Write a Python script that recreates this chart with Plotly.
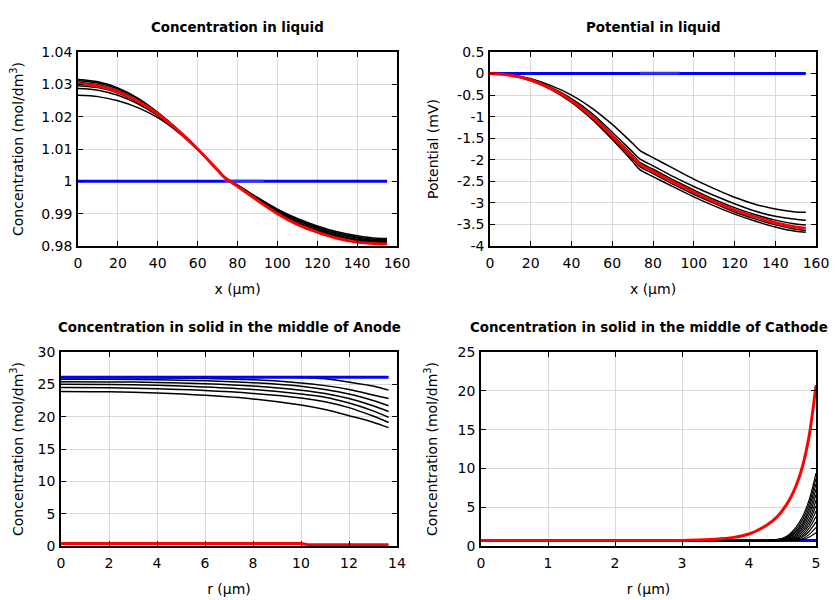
import plotly.graph_objects as go

# ---------------- Data ----------------
# Concentration in liquid (x in µm, mol/dm3)
liq_x = [0, 10, 20, 30, 40, 50, 60, 70, 73.5, 80, 90, 100, 110, 120, 130, 140, 150, 155]
liq_c_black = [
    [1.0266, 1.0262, 1.0249, 1.0228, 1.0197, 1.0153, 1.0098, 1.0035, 1.0012, 0.9989, 0.9950, 0.9914, 0.9885, 0.9862, 0.9844, 0.9832, 0.9824, 0.9823],
    [1.0287, 1.0282, 1.0266, 1.0240, 1.0203, 1.0156, 1.0099, 1.0035, 1.0012, 0.9988, 0.9948, 0.9911, 0.9881, 0.9858, 0.9840, 0.9828, 0.9820, 0.9819],
    [1.0296, 1.0290, 1.0273, 1.0245, 1.0206, 1.0157, 1.0099, 1.0035, 1.0012, 0.9987, 0.9946, 0.9908, 0.9878, 0.9855, 0.9837, 0.9825, 0.9817, 0.9816],
    [1.0306, 1.0299, 1.0281, 1.0251, 1.0210, 1.0159, 1.0100, 1.0035, 1.0012, 0.9986, 0.9944, 0.9905, 0.9874, 0.9851, 0.9833, 0.9821, 0.9814, 0.9813],
    [1.0311, 1.0304, 1.0286, 1.0255, 1.0212, 1.0160, 1.0100, 1.0035, 1.0012, 0.9985, 0.9942, 0.9903, 0.9872, 0.9848, 0.9830, 0.9818, 0.9812, 0.9811],
    [1.0315, 1.0308, 1.0289, 1.0257, 1.0213, 1.0160, 1.0100, 1.0035, 1.0012, 0.9984, 0.9941, 0.9901, 0.9869, 0.9845, 0.9827, 0.9815, 0.9810, 0.9809],
]
liq_c_red = [1.0302, 1.0295, 1.0277, 1.0248, 1.0208, 1.0158, 1.0100, 1.0035, 1.0012, 0.9985, 0.9941, 0.9900, 0.9867, 0.9843, 0.9824, 0.9812, 0.9807, 0.9806]
liq_c_blue_x = [0, 155]
liq_c_blue = [1.0, 1.0]
sep_x = [73.5, 93]
liq_c_sep = [1.0001, 1.0001]

# Potential in liquid (mV)
liq_p_black = [
    [0, -0.03, -0.12, -0.28, -0.50, -0.80, -1.18, -1.62, -1.78, -1.95, -2.20, -2.45, -2.67, -2.87, -3.03, -3.14, -3.21, -3.22],
    [0, -0.035, -0.14, -0.32, -0.58, -0.92, -1.36, -1.82, -1.98, -2.14, -2.39, -2.62, -2.83, -3.02, -3.19, -3.31, -3.38, -3.40],
    [0, -0.04, -0.15, -0.34, -0.61, -0.97, -1.42, -1.89, -2.06, -2.22, -2.47, -2.70, -2.92, -3.11, -3.27, -3.40, -3.49, -3.51],
    [0, -0.04, -0.16, -0.36, -0.65, -1.03, -1.49, -1.98, -2.16, -2.32, -2.57, -2.80, -3.01, -3.21, -3.37, -3.51, -3.61, -3.64],
    [0, -0.04, -0.16, -0.37, -0.67, -1.06, -1.53, -2.04, -2.23, -2.39, -2.63, -2.86, -3.07, -3.26, -3.42, -3.56, -3.66, -3.68],
]
liq_p_red = [0, -0.04, -0.15, -0.35, -0.63, -1.00, -1.45, -1.93, -2.10, -2.27, -2.52, -2.75, -2.97, -3.16, -3.32, -3.46, -3.56, -3.59]
liq_p_blue = [0, 0]
liq_p_sep = [0.01, 0.01]

# Concentration in solid, anode (r in µm)
an_r = [0, 2, 4, 6, 8, 10, 11, 12, 13, 13.65]
an_black = [
    [26.1, 26.1, 26.1, 26.1, 26.08, 26.05, 25.85, 25.35, 24.75, 24.1],
    [26.05, 26.05, 26.0, 25.9, 25.7, 25.2, 24.8, 24.2, 23.35, 22.8],
    [25.8, 25.78, 25.7, 25.55, 25.25, 24.7, 24.2, 23.5, 22.5, 21.7],
    [25.4, 25.38, 25.3, 25.1, 24.75, 24.1, 23.6, 22.8, 21.7, 20.8],
    [25.0, 24.97, 24.85, 24.6, 24.2, 23.5, 23.0, 22.1, 20.9, 19.9],
    [24.5, 24.46, 24.3, 24.05, 23.6, 22.9, 22.3, 21.4, 20.1, 19.1],
    [23.9, 23.85, 23.65, 23.3, 22.75, 21.8, 21.1, 20.15, 19.15, 18.3],
]
an_blue_r = [0, 13.65]
an_blue = [26.1, 26.1]
an_red_r = [0, 10.0, 10.3, 13.65]
an_red = [0.4, 0.4, 0.2, 0.2]

# Concentration in solid, cathode
ca_r = [0, 4.0, 4.3, 4.5, 4.6, 4.7, 4.8, 4.9, 5.0]
ca_black = [
    [0.7, 0.7, 0.75, 1.0, 1.5, 2.4, 3.8, 6.0, 9.4],
    [0.7, 0.7, 0.73, 0.95, 1.35, 2.1, 3.4, 5.5, 8.7],
    [0.7, 0.7, 0.72, 0.9, 1.25, 1.9, 3.0, 5.0, 8.0],
    [0.7, 0.7, 0.71, 0.85, 1.15, 1.7, 2.7, 4.5, 7.3],
    [0.7, 0.7, 0.7, 0.8, 1.05, 1.5, 2.4, 4.0, 6.6],
    [0.7, 0.7, 0.7, 0.77, 0.95, 1.35, 2.1, 3.5, 5.9],
    [0.7, 0.7, 0.7, 0.75, 0.9, 1.2, 1.85, 3.1, 5.2],
    [0.7, 0.7, 0.7, 0.72, 0.82, 1.05, 1.6, 2.7, 4.5],
    [0.7, 0.7, 0.7, 0.71, 0.77, 0.95, 1.35, 2.3, 3.8],
    [0.7, 0.7, 0.7, 0.7, 0.74, 0.85, 1.15, 1.9, 3.1],
    [0.7, 0.7, 0.7, 0.7, 0.72, 0.78, 0.95, 1.5, 2.4],
    [0.7, 0.7, 0.7, 0.7, 0.7, 0.73, 0.82, 1.15, 1.7],
]
ca_red_r = [0, 3.0, 3.25, 3.5, 3.75, 4.0, 4.1, 4.2, 4.3, 4.4, 4.5, 4.6, 4.7, 4.8, 4.9, 5.0]
ca_red = [0.7, 0.72, 0.78, 0.88, 1.08, 1.55, 1.9, 2.35, 2.9, 3.6, 4.6, 5.9, 7.7, 10.3, 14.3, 20.7]
ca_blue_r = [0, 5.0]
ca_blue = [0.7, 0.7]

# Tick labels
tl_xticks = [0, 20, 40, 60, 80, 100, 120, 140, 160]
tl_yticks = [0.98, 0.99, 1.0, 1.01, 1.02, 1.03, 1.04]
tl_ytext = ["0.98", "0.99", "1", "1.01", "1.02", "1.03", "1.04"]
tr_yticks = [-4, -3.5, -3, -2.5, -2, -1.5, -1, -0.5, 0, 0.5]
tr_ytext = ["-4", "-3.5", "-3", "-2.5", "-2", "-1.5", "-1", "-0.5", "0", "0.5"]
bl_xticks = [0, 2, 4, 6, 8, 10, 12, 14]
bl_yticks = [0, 5, 10, 15, 20, 25, 30]
br_xticks = [0, 1, 2, 3, 4, 5]
br_yticks = [0, 5, 10, 15, 20, 25]

titles = ["Concentration in liquid", "Potential in liquid",
          "Concentration in solid in the middle of Anode",
          "Concentration in solid in the middle of Cathode"]

# ---------------- Figure ----------------
# the page body has an 8px margin, so the figure is drawn 8px smaller and offset
OFF = 8
W, H = 840 - OFF, 600 - OFF
FONT = "DejaVu Sans"
fig = go.Figure()

def line(x, y, color, width, xa, ya, shape="spline"):
    ln = dict(color=color, width=width, shape=shape)
    if shape == "spline":
        ln["smoothing"] = 0.8
    fig.add_trace(go.Scatter(x=x, y=y, mode="lines", xaxis=xa, yaxis=ya,
                             line=ln, showlegend=False, hoverinfo="skip"))

# TL
for c in liq_c_black:
    line(liq_x, c, "black", 1.5, "x", "y")
line(liq_c_blue_x, liq_c_blue, "blue", 3, "x", "y", "linear")
line(sep_x, liq_c_sep, "rgba(80,80,255,0.6)", 3, "x", "y", "linear")
line(liq_x, liq_c_red, "red", 3, "x", "y")
# TR
line(liq_c_blue_x, liq_p_blue, "blue", 3, "x2", "y2", "linear")
line(sep_x, liq_p_sep, "rgba(80,80,255,0.6)", 3, "x2", "y2", "linear")
for p in liq_p_black:
    line(liq_x, p, "black", 1.5, "x2", "y2")
line(liq_x, liq_p_red, "red", 3, "x2", "y2")
# BL
for c in an_black:
    line(an_r, c, "black", 1.5, "x3", "y3")
line(an_blue_r, an_blue, "blue", 3, "x3", "y3", "linear")
line(an_red_r, an_red, "red", 3, "x3", "y3", "linear")
# BR
line(ca_blue_r, ca_blue, "blue", 3, "x4", "y4", "linear")
for c in ca_black:
    line(ca_r, c, "black", 1.2, "x4", "y4")
line(ca_red_r, ca_red, "red", 3, "x4", "y4")

def px_x(a, b):
    return [(a - OFF) / W, (b - OFF) / W]

def px_y(top, bottom):
    return [1 - (bottom - OFF) / H, 1 - (top - OFF) / H]

def axis(domain, anchor, rng, tickvals, ticktext, title, standoff, is_x):
    d = dict(domain=domain, anchor=anchor, range=rng, tickvals=tickvals,
             ticktext=ticktext, ticks="inside", ticklen=5, tickcolor="black",
             tickwidth=1, showline=True, linecolor="black", linewidth=1.5,
             mirror="ticks", showgrid=True, gridcolor="#d9d9d9", gridwidth=1,
             zeroline=False, automargin=False,
             tickfont=dict(family=FONT, size=14, color="black"),
             ticklabelstandoff=3 if is_x else 1,
             title=dict(text=title, font=dict(family=FONT, size=14, color="black"),
                        standoff=standoff))
    return d

def fmt(v):
    return [str(t) for t in v]

XS = 15
fig.update_layout(
    width=W, height=H,
    margin=dict(l=0, r=0, t=0, b=0),
    paper_bgcolor="white", plot_bgcolor="white",
    font=dict(family=FONT, size=14, color="black"),
    xaxis=axis(px_x(78, 397), "y", [0, 160], tl_xticks, fmt(tl_xticks), "x (µm)", XS, True),
    yaxis=axis(px_y(52, 246), "x", [0.98, 1.04], tl_yticks, tl_ytext,
               "Concentration (mol/dm<sup>3</sup>)", 24, False),
    xaxis2=axis(px_x(490, 816), "y2", [0, 160], tl_xticks, fmt(tl_xticks), "x (µm)", XS, True),
    yaxis2=axis(px_y(52, 246), "x2", [-4, 0.5], tr_yticks, tr_ytext, "Potential (mV)", 15, False),
    xaxis3=axis(px_x(61, 397), "y3", [0, 14], bl_xticks, fmt(bl_xticks), "r (µm)", XS, True),
    yaxis3=axis(px_y(352, 546), "x3", [0, 30], bl_yticks, fmt(bl_yticks),
                "Concentration (mol/dm<sup>3</sup>)", 24, False),
    xaxis4=axis(px_x(481, 816), "y4", [0, 5], br_xticks, fmt(br_xticks), "r (µm)", XS, True),
    yaxis4=axis(px_y(352, 546), "x4", [0, 25], br_yticks, fmt(br_yticks),
                "Concentration (mol/dm<sup>3</sup>)", 17, False),
)

title_pos = [((78 + 397) / 2, 27), ((490 + 816) / 2, 27), ((61 + 397) / 2, 327), ((481 + 816) / 2, 327)]
for t, (cx, cy) in zip(titles, title_pos):
    fig.add_annotation(text="<b>" + t + "</b>", x=(cx - OFF) / W, y=1 - (cy - OFF) / H,
                       xref="paper", yref="paper",
                       xanchor="center", yanchor="middle", showarrow=False,
                       font=dict(family=FONT, size=13.4, color="black"))

fig.write_html("out.html")
